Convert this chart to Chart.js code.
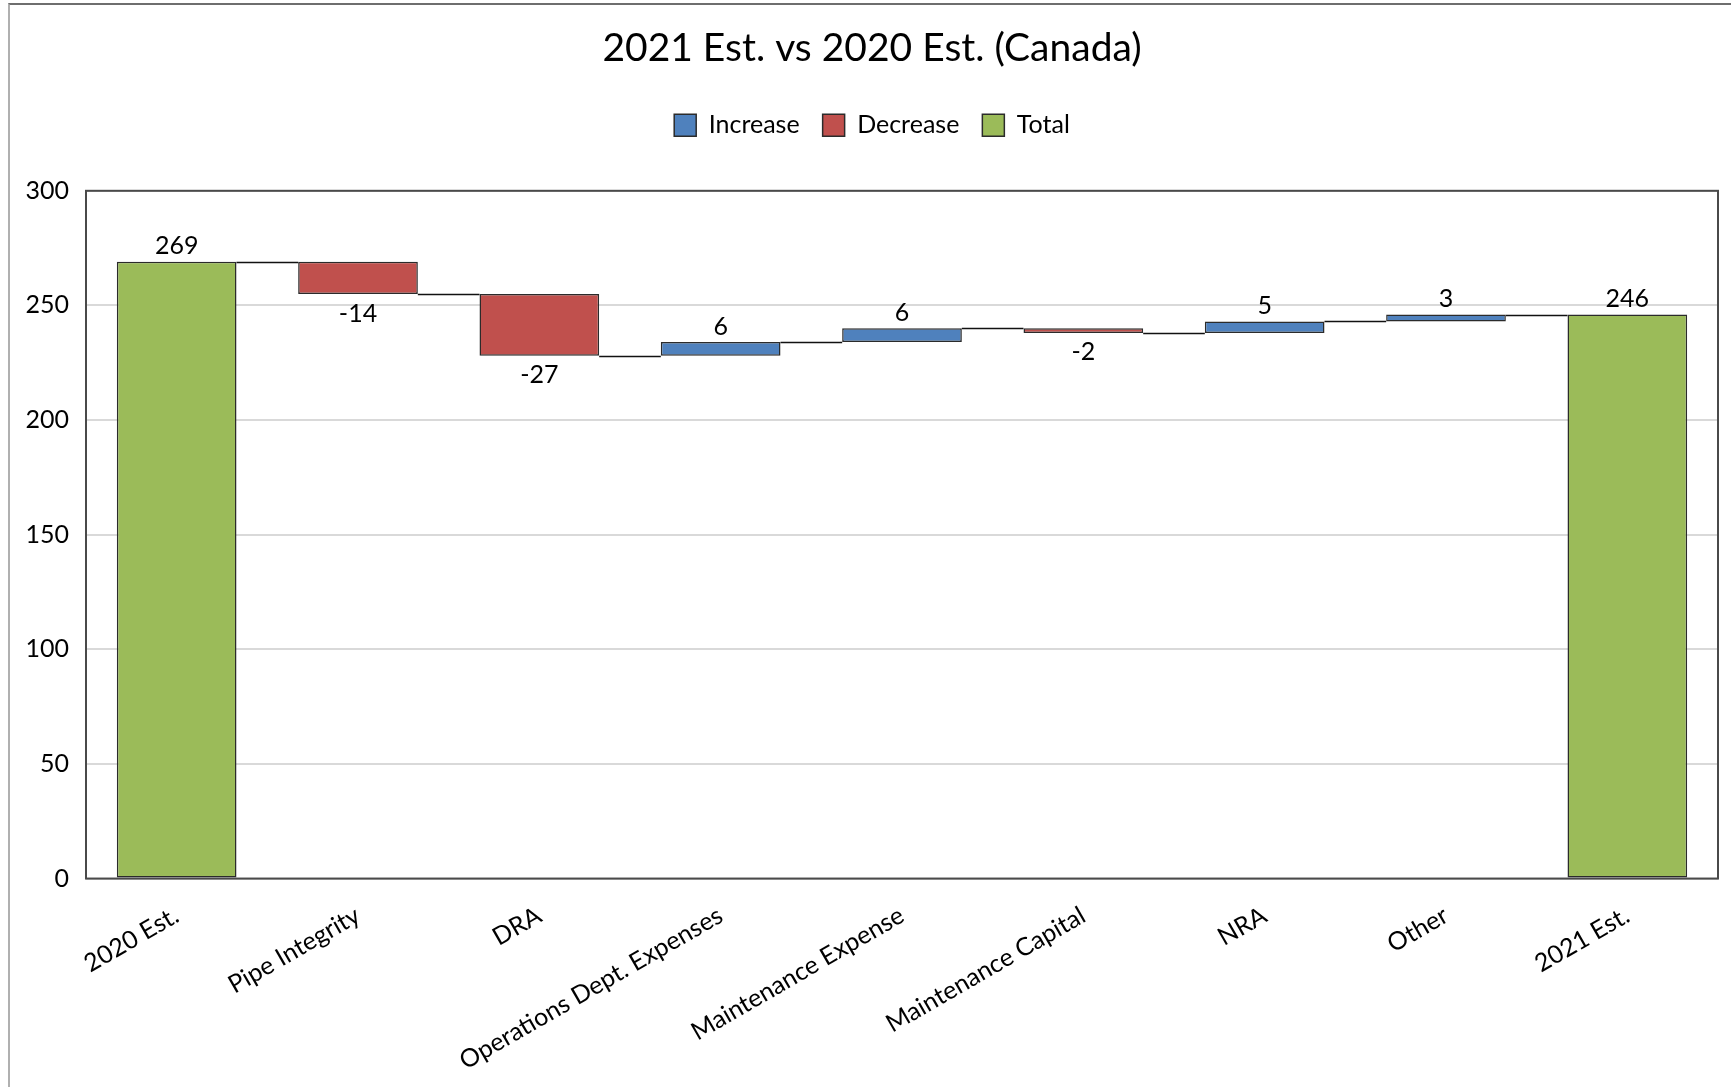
<!DOCTYPE html>
<html>
<head>
<meta charset="utf-8">
<script src="https://cdn.jsdelivr.net/npm/chart.js@4/dist/chart.umd.min.js"></script>
<style>
  html, body { margin: 0; padding: 0; background: #fff; overflow: hidden; }
  #frame { position: absolute; left: 8px; top: 3px; width: 1740px; height: 1100px;
           border-left: 2px solid #b0b0b0; border-top: 2px solid #6e6e6e; }
  #wrap { position: absolute; left: 10px; top: 5px; width: 1721px; height: 1089px; }
</style>
</head>
<body>
<div id="frame"></div>
<div id="wrap"><canvas id="waterfall"></canvas></div>
<script>
const categories = ['2020 Est.', 'Pipe Integrity', 'DRA', 'Operations Dept. Expenses',
  'Maintenance Expense', 'Maintenance Capital', 'NRA', 'Other', '2021 Est.'];
const startTotal = 269;
const deltas = [-14, -27, 6, 6, -2, 5, 3];
const endTotal = 246;
const yTicks = [0, 50, 100, 150, 200, 250, 300];

const FONT = 'Lato, "Open Sans", sans-serif';
const colors = { up: '#4F81BD', down: '#C0504D', total: '#9BBB59', edge: '#2b2b2b' };

// build floating bars from the arrays
const increase = [], decrease = [], total = [], levels = [], labels = [];
let level = startTotal;
increase.push(null); decrease.push(null); total.push([0, startTotal]);
levels.push(startTotal); labels.push({ text: String(startTotal), above: true });
deltas.forEach(d => {
  const next = level + d;
  total.push(null);
  if (d >= 0) { increase.push([level, next]); decrease.push(null); }
  else { decrease.push([next, level]); increase.push(null); }
  labels.push({ text: String(d), above: d >= 0 });
  level = next;
  levels.push(level);
});
increase.push(null); decrease.push(null); total.push([0, endTotal]);
levels.push(endTotal); labels.push({ text: String(endTotal), above: true });

function barAt(chart, i) {
  for (let d = 0; d < chart.data.datasets.length; d++) {
    const v = chart.data.datasets[d].data[i];
    if (v) return chart.getDatasetMeta(d).data[i];
  }
  return null;
}

// extra room under the legend
const legendGap = {
  id: 'legendGap',
  beforeInit(chart) {
    const fit = chart.legend.fit;
    chart.legend.fit = function () {
      fit.call(this);
      this.height += 43;
    };
  }
};

const framePlugin = {
  id: 'frame',
  beforeDatasetsDraw(chart) {
    const { ctx, chartArea: a } = chart;
    ctx.save();
    ctx.strokeStyle = '#4a4a4a';
    ctx.lineWidth = 2;
    ctx.strokeRect(a.left, a.top, a.right - a.left, a.bottom - a.top);
    ctx.restore();
  }
};

const connectorPlugin = {
  id: 'connectors',
  afterDatasetsDraw(chart) {
    const { ctx } = chart;
    const y = chart.scales.y;
    ctx.save();
    ctx.strokeStyle = '#111';
    ctx.lineWidth = 1.5;
    for (let i = 0; i < categories.length - 1; i++) {
      const a = barAt(chart, i), b = barAt(chart, i + 1);
      if (!a || !b) continue;
      const py = Math.round(y.getPixelForValue(levels[i])) + 0.5;
      ctx.beginPath();
      ctx.moveTo(a.x + a.width / 2, py);
      ctx.lineTo(b.x - b.width / 2, py);
      ctx.stroke();
    }
    ctx.restore();
  }
};

const labelPlugin = {
  id: 'valueLabels',
  afterDatasetsDraw(chart) {
    const { ctx } = chart;
    ctx.save();
    ctx.font = '25px ' + FONT;
    ctx.fillStyle = '#000';
    ctx.textAlign = 'center';
    labels.forEach((lab, i) => {
      const el = barAt(chart, i);
      if (!el) return;
      const top = Math.min(el.y, el.base), bottom = Math.max(el.y, el.base);
      if (lab.above) {
        ctx.textBaseline = 'bottom';
        ctx.fillText(lab.text, el.x, top - 3);
      } else {
        ctx.textBaseline = 'top';
        ctx.fillText(lab.text, el.x, bottom + 7);
      }
    });
    ctx.restore();
  }
};

const barStyle = { borderColor: colors.edge, borderWidth: 1.5, borderSkipped: false,
  barPercentage: 0.66, categoryPercentage: 1 };

new Chart(document.getElementById('waterfall'), {
  type: 'bar',
  data: {
    labels: categories,
    datasets: [
      Object.assign({ label: 'Increase', data: increase, backgroundColor: colors.up }, barStyle),
      Object.assign({ label: 'Decrease', data: decrease, backgroundColor: colors.down }, barStyle),
      Object.assign({ label: 'Total', data: total, backgroundColor: colors.total }, barStyle)
    ]
  },
  options: {
    responsive: true,
    maintainAspectRatio: false,
    animation: false,
    layout: { padding: { left: 16, right: 13, top: 0, bottom: 4 } },
    plugins: {
      title: { display: true, text: '2021 Est. vs 2020 Est. (Canada)', color: '#000',
        font: { family: FONT, size: 39, weight: 'normal' }, padding: { top: 20, bottom: 18 } },
      legend: { position: 'top',
        labels: { color: '#000', boxWidth: 22, boxHeight: 22, padding: 23,
          font: { family: FONT, size: 25 } } },
      tooltip: { enabled: false }
    },
    scales: {
      x: {
        stacked: true,
        grid: { display: false },
        border: { display: false },
        afterFit(axis) { axis.paddingLeft = 0; },
        ticks: { autoSkip: false, minRotation: 30, maxRotation: 30, color: '#000',
          padding: 14, font: { family: FONT, size: 25 } }
      },
      y: {
        min: yTicks[0], max: yTicks[yTicks.length - 1],
        afterBuildTicks(axis) { axis.ticks = yTicks.map(v => ({ value: v })); },
        afterFit(axis) { axis.width = 60; },
        grid: { color: '#d9d9d9', lineWidth: 2, drawTicks: false },
        border: { display: false },
        ticks: { color: '#000', padding: 17, font: { family: FONT, size: 25 } }
      }
    }
  },
  plugins: [legendGap, framePlugin, connectorPlugin, labelPlugin]
});
</script>
</body>
</html>
